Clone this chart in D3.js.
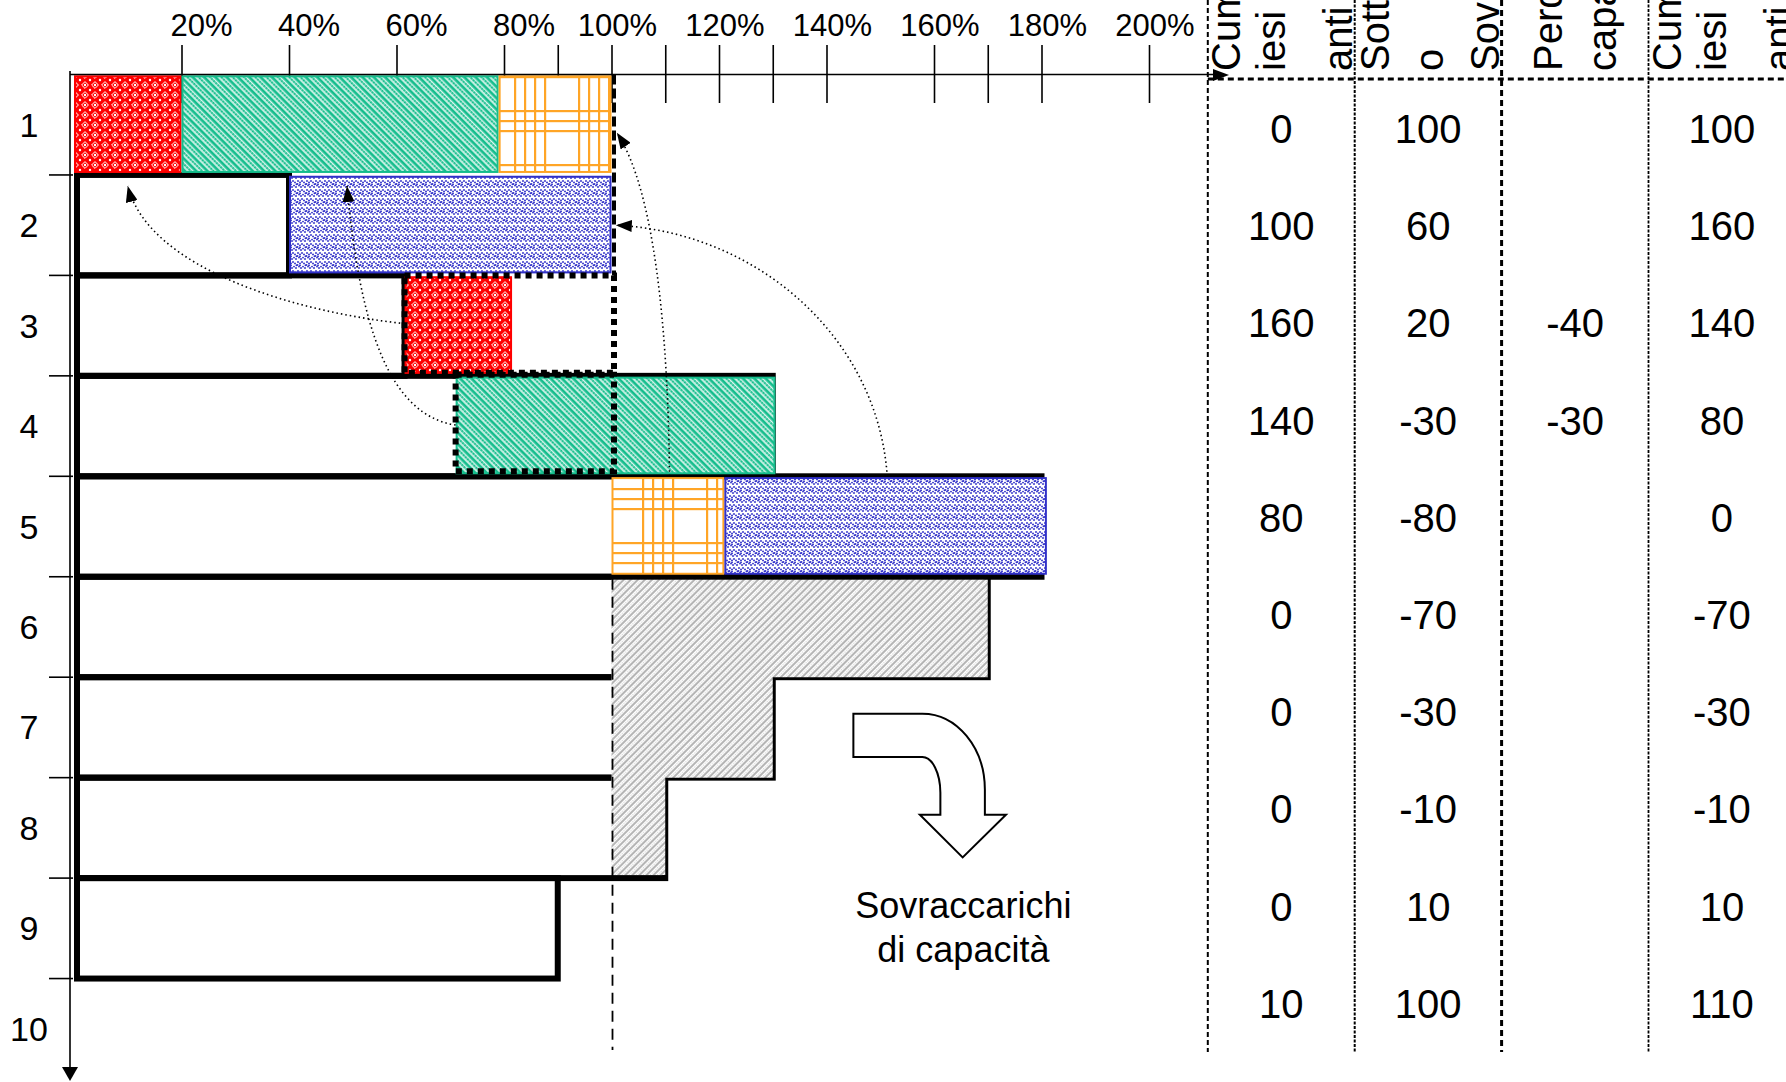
<!DOCTYPE html>
<html><head><meta charset="utf-8">
<script src="https://cdn.jsdelivr.net/npm/d3@7"></script>
<style>
html,body{margin:0;padding:0;background:#fff;}
svg{display:block;font-family:"Liberation Sans",Arial,Helvetica,sans-serif;}
</style>
</head><body>
<svg id="c" width="1786" height="1082"></svg>
<script>
// ---------------- DATA ----------------
const periods = [1,2,3,4,5,6,7,8,9,10];
// extent (%) of the black load outline drawn in each period
const barEnd = [0, 40, 61.5, 130, 180, 170, 130, 110, 90, 0];
const tickValues = [20,40,60,80,90,100,110,120,130,140,160,170,180,200];
const labelValues = [20,40,60,80,100,120,140,160,180,200];
const labelTexts = ["20%","40%","60%","80%","100%","120%","140%","160%","180%","200%"];
// moved work blocks (period, from %, to %)
const redPieces    = [{p:1, from:0,    to:20},   {p:3, from:61.5, to:81.5}];
const greenPieces  = [{p:1, from:20,   to:79},   {p:4, from:71,   to:130.5}];
const orangePieces = [{p:1, from:79,   to:100},  {p:5, from:100,  to:121}];
const bluePieces   = [{p:2, from:40,   to:100},  {p:5, from:121,  to:181}];
// overload beyond 100% (grey)
const overload = [{p:6, to:170}, {p:7, to:130}, {p:8, to:110}];
// lost capacity (dotted)
const lostCapacity = [{p:3, from:61.5, to:100}, {p:4, from:71, to:100}];
// table
const colHeaders = [["Cumulo","iesi","anti"], ["Sotto","o","Sovraccarico"], ["Perdita","capacità"], ["Cumulo","iesi","anti"]];
const cumIniziale = [0, 100, 160, 140, 80, 0, 0, 0, 0, 10];
const sottoSovra  = [100, 60, 20, -30, -80, -70, -30, -10, 10, 100];
const perdita     = [null, null, -40, -30, null, null, null, null, null, null];
const cumFinale   = [100, 160, 140, 80, 0, -70, -30, -10, 10, 110];
const annotation  = ["Sovraccarichi", "di capacità"];

// ---------------- SCALES ----------------
const svg = d3.select("#c");
const x = d3.scaleLinear().domain([0, 200]).range([74, 1149]);
const y = d3.scaleBand().domain(periods).range([74.5, 74.5 + 10 * 100.45]).padding(0);
const S = y.step();
const yr = r => y.range()[0] + r * S;   // fractional row position
const tx = d3.scaleBand().domain([0,1,2,3]).range([1207.8, 1207.8 + 4 * 146.9]).padding(0);
const ty = d3.scaleBand().domain(periods).range([80.4, 80.4 + 10 * 97.2]).padding(0);

// ---------------- PATTERNS ----------------
const defs = svg.append("defs");
const RED = "#ff0000", GREEN = "#14bd8c", ORANGE = "#ffa526", BLUE = "#3030c8", GREY = "#b5b5b5";

let p = defs.append("pattern").attr("id","pRed").attr("width",10).attr("height",10).attr("patternUnits","userSpaceOnUse");
p.append("rect").attr("width",10).attr("height",10).attr("fill",RED);
p.append("path").attr("d","M5,1.6 L8.4,5 L5,8.4 L1.6,5 Z").attr("fill","none").attr("stroke","#fff").attr("stroke-width",1);
[[0,0],[10,0],[0,10],[10,10],[5,5]].forEach(c=>p.append("circle").attr("cx",c[0]).attr("cy",c[1]).attr("r",1.2).attr("fill","#fff"));

p = defs.append("pattern").attr("id","pGreen").attr("width",8).attr("height",6).attr("patternUnits","userSpaceOnUse").attr("patternTransform","rotate(-45)");
p.append("rect").attr("width",8).attr("height",6).attr("fill","#fff");
p.append("rect").attr("x",0.3).attr("width",3).attr("height",6).attr("fill",GREEN);
p.append("rect").attr("x",4.7).attr("y",0.4).attr("width",2.5).attr("height",2.4).attr("fill",GREEN);
p.append("rect").attr("x",4.7).attr("y",3.4).attr("width",2.5).attr("height",2.4).attr("fill",GREEN);

p = defs.append("pattern").attr("id","pOrange").attr("width",64).attr("height",54).attr("patternUnits","userSpaceOnUse");
p.append("rect").attr("width",64).attr("height",54).attr("fill","#fff");
[2,12,22,32].forEach(v=>p.append("rect").attr("x",v).attr("width",2.2).attr("height",54).attr("fill",ORANGE));
[2,12,22].forEach(v=>p.append("rect").attr("y",v).attr("width",64).attr("height",2.2).attr("fill",ORANGE));

p = defs.append("pattern").attr("id","pBlue").attr("width",9).attr("height",9).attr("patternUnits","userSpaceOnUse");
p.append("rect").attr("width",9).attr("height",9).attr("fill","#fff");
[[1,1],[3,2.4],[5,1],[7,2.4],[2,5.6],[4,7],[6,5.6],[8,7],[0.5,4],[8.5,4.2],[3,4.4]].forEach(c=>p.append("circle").attr("cx",c[0]).attr("cy",c[1]).attr("r",0.95).attr("fill",BLUE));

p = defs.append("pattern").attr("id","pGrey").attr("width",5).attr("height",5).attr("patternUnits","userSpaceOnUse").attr("patternTransform","rotate(45)");
p.append("rect").attr("width",5).attr("height",5).attr("fill","#fff");
p.append("rect").attr("width",2).attr("height",5).attr("fill",GREY);
p.append("rect").attr("x",3.1).attr("y",0.5).attr("width",1.2).attr("height",1.2).attr("fill","#cfcfcf");
p.append("rect").attr("x",3.1).attr("y",3).attr("width",1.2).attr("height",1.2).attr("fill","#cfcfcf");

const mk = defs.append("marker").attr("id","ah").attr("markerUnits","userSpaceOnUse")
  .attr("markerWidth",17).attr("markerHeight",12).attr("refX",16).attr("refY",6).attr("orient","auto");
mk.append("path").attr("d","M0,0 L16,6 L0,12 Z").attr("fill","#000");

// ---------------- TOP AXIS TICKS ----------------
svg.append("g").attr("transform","translate(0,103)")
  .call(d3.axisTop(x).tickValues(tickValues).tickSizeInner(58).tickSizeOuter(0).tickFormat(""))
  .call(g=>g.select(".domain").remove())
  .call(g=>g.selectAll("line").attr("stroke","#000").attr("stroke-width",1.6));

svg.selectAll(".xl").data(labelValues).join("text").attr("class","xl")
  .attr("x",(d,i)=>x(d) + (labelTexts[i].length > 3 ? 6 : 20))
  .attr("y",36).attr("text-anchor","middle").attr("font-size",31).attr("fill","#000")
  .text((d,i)=>labelTexts[i]);

// ---------------- LOAD OUTLINES ----------------
const gBars = svg.append("g");
gBars.selectAll("rect").data(periods.map((pp,i)=>({p:pp, v:barEnd[i]})).filter(d=>d.v>0))
  .join("rect")
  .attr("x", x(0)+3).attr("y", d=>y(d.p))
  .attr("width", d=>x(d.v)-x(0)-3).attr("height", S)
  .attr("fill","none").attr("stroke","#000").attr("stroke-width",6);

// ---------------- MOVED BLOCKS ----------------
function pieces(arr, fill, stroke){
  svg.append("g").selectAll("rect").data(arr).join("rect")
    .attr("x", d=>x(d.from)+1).attr("y", d=>y(d.p)+1.8)
    .attr("width", d=>x(d.to)-x(d.from)-2).attr("height", S-4.8)
    .attr("fill", fill).attr("stroke", stroke).attr("stroke-width", 2);
}
pieces(redPieces, "url(#pRed)", RED);
pieces(greenPieces, "url(#pGreen)", GREEN);
pieces(orangePieces, "url(#pOrange)", ORANGE);
pieces(bluePieces, "url(#pBlue)", BLUE);

// overload polygon
const pts = [[x(100), y(overload[0].p)+3]];
overload.forEach((d,i)=>{
  const top = i===0 ? y(d.p)+3 : y(d.p);
  const bot = i===overload.length-1 ? y(d.p)+S-3 : y(d.p)+S;
  pts.push([x(d.to), top]); pts.push([x(d.to), bot]);
});
pts.push([x(100), y(overload[overload.length-1].p)+S-3]);
svg.append("path").attr("d", d3.line()(pts)+"Z").attr("fill","url(#pGrey)").attr("stroke","none");

// lost capacity (dotted)
svg.append("g").selectAll("rect").data(lostCapacity).join("rect")
  .attr("x", d=>x(d.from)).attr("y", (d,i)=> i===0 ? y(d.p) : y(d.p)-1)
  .attr("width", d=>x(d.to)-x(d.from)+2.5).attr("height", (d,i)=> i===0 ? S-3 : S-4)
  .attr("fill","none").attr("stroke","#000").attr("stroke-width",6).attr("stroke-dasharray","6,5");

// 100% reference lines
svg.append("line").attr("x1",x(100)+2.5).attr("x2",x(100)+2.5).attr("y1",y(1)).attr("y2",y(3))
  .attr("stroke","#000").attr("stroke-width",4).attr("stroke-dasharray","10,4");
svg.append("line").attr("x1",x(100)+1).attr("x2",x(100)+1).attr("y1",y(6)+2).attr("y2",1050)
  .attr("stroke","#000").attr("stroke-width",1.8).attr("stroke-dasharray","11,7");

// ---------------- AXES ----------------
svg.append("line").attr("x1",70).attr("x2",1215).attr("y1",74.5).attr("y2",74.5).attr("stroke","#000").attr("stroke-width",1.6);
svg.append("path").attr("d","M1213,69 L1229,75 L1213,81 Z").attr("fill","#000");
svg.append("line").attr("x1",70).attr("x2",70).attr("y1",71).attr("y2",1068).attr("stroke","#000").attr("stroke-width",1.6);
svg.append("path").attr("d","M62,1067 L78,1067 L70,1081 Z").attr("fill","#000");

svg.append("g").selectAll("line").data(periods.slice(1)).join("line")
  .attr("x1",49).attr("x2",73).attr("y1",d=>y(d)).attr("y2",d=>y(d))
  .attr("stroke","#000").attr("stroke-width",1.6);
svg.append("g").selectAll("text").data(periods).join("text")
  .attr("x",29).attr("y",d=>y(d)+S/2+12).attr("text-anchor","middle").attr("font-size",34).text(d=>d);

// ---------------- TRANSFER ARROWS ----------------
const transfers = [
  [[61.5,2.48],[42,2.37],[14,1.95],[10,1.11]],
  [[71,3.49],[58.8,3.39],[53.2,2.54],[50.8,1.11]],
  [[110.8,4.0],[110.5,2.54],[108,1.15],[101,0.58]],
  [[151.3,4.0],[149.6,2.64],[127.6,1.57],[100.8,1.5]]
];
svg.append("g").selectAll("path").data(transfers).join("path")
  .attr("d", d=>{ const q=d.map(c=>[x(c[0]), yr(c[1])]);
    return `M${q[0]} C${q[1]} ${q[2]} ${q[3]}`; })
  .attr("fill","none").attr("stroke","#000").attr("stroke-width",1.6)
  .attr("stroke-dasharray","1.5,3").attr("marker-end","url(#ah)");

// ---------------- BLOCK ARROW + TEXT ----------------
const ax = x(145), ay = y(7) + 36.5;
svg.append("path").attr("transform",`translate(${ax},${ay})`)
  .attr("d","M0,0 H69 A62.5,76 0 0 1 131.5,76 V101 H152.6 L109.3,143.7 L66.5,101 H87 V79 A18,36 0 0 0 69,43.3 H0 Z")
  .attr("fill","#fff").attr("stroke","#000").attr("stroke-width",2);
svg.append("g").selectAll("text").data(annotation).join("text")
  .attr("x", ax+110).attr("y",(d,i)=>y(9)+40+i*44).attr("text-anchor","middle").attr("font-size",36).text(d=>d);

// ---------------- TABLE ----------------
const colStyles = [{w:2,d:"5,3"},{w:2,d:"3,1.5"},{w:3,d:"6,4"},{w:1.8,d:"3,1.5"}];
svg.append("g").selectAll("line").data([0,1,2,3]).join("line")
  .attr("x1",d=>tx(d)).attr("x2",d=>tx(d)).attr("y1",0).attr("y2",1052)
  .attr("stroke","#000").attr("stroke-width",d=>colStyles[d].w).attr("stroke-dasharray",d=>colStyles[d].d);
svg.append("line").attr("x1",tx(0)).attr("x2",1786).attr("y1",79).attr("y2",79)
  .attr("stroke","#000").attr("stroke-width",3).attr("stroke-dasharray","6,4");

const headerOffsets = [[32,77,144],[34,88,144],[60,114],[32,77,144]];
colHeaders.forEach((lines,c)=>{
  svg.append("g").selectAll("text").data(lines).join("text")
    .attr("transform",(d,i)=>`translate(${tx(c)+headerOffsets[c][i]},71) rotate(-90)`)
    .attr("font-size",40).text(d=>d);
});

const cols = [cumIniziale, sottoSovra, perdita, cumFinale];
cols.forEach((arr,c)=>{
  svg.append("g").selectAll("text").data(periods.map((pp,i)=>({p:pp,v:arr[i]})).filter(d=>d.v!==null)).join("text")
    .attr("x", tx(c)+tx.bandwidth()/2).attr("y", d=>ty(d.p)+ty.bandwidth()/2+14)
    .attr("text-anchor","middle").attr("font-size",40).text(d=>d.v);
});
</script>
</body></html>
